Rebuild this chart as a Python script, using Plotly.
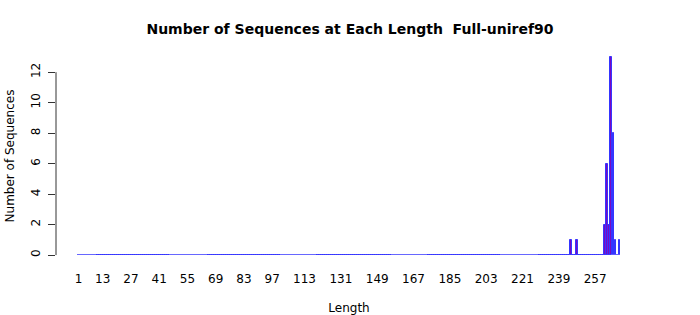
import plotly.graph_objects as go

# Sequence lengths observed (1..269) and counts at nonzero lengths
all_lengths = list(range(1, 270))
nonzero_lengths = [245, 248, 262, 263, 264, 265, 266, 267, 269]
nonzero_counts = [1, 1, 2, 6, 2, 13, 8, 1, 1]
tick_labels = [1, 13, 27, 41, 55, 69, 83, 97, 113, 131, 149, 167, 185, 203, 221, 239, 257]
y_ticks = [0, 2, 4, 6, 8, 10, 12]

count_map = dict(zip(nonzero_lengths, nonzero_counts))
counts = [count_map.get(L, 0) for L in all_lengths]

FONT = "DejaVu Sans"

fig = go.Figure()
fig.add_trace(go.Bar(
    x=all_lengths,
    y=counts,
    width=1 / 1.2,
    marker=dict(color="#7a08c0", line=dict(color="#3535ff", width=1)),
    hoverinfo="x+y",
))

fig.update_layout(
    width=700,
    height=315,
    margin=dict(l=56, r=58, t=49, b=52, autoexpand=False),
    paper_bgcolor="white",
    plot_bgcolor="white",
    showlegend=False,
    bargap=0,
    font=dict(family=FONT, size=12, color="black"),
    title=dict(
        text="<b>Number of Sequences at Each Length  Full-uniref90</b>",
        x=0.5, xanchor="center", y=1 - 29 / 315, yanchor="middle",
        font=dict(family=FONT, size=14, color="black"),
    ),
    xaxis=dict(
        range=[-10.15, 280.2],
        automargin=False,
        tickmode="array",
        tickvals=tick_labels,
        ticktext=[str(t) for t in tick_labels],
        ticks="",
        showline=False,
        showgrid=False,
        zeroline=False,
        ticklabelstandoff=7,
        tickfont=dict(family=FONT, size=12, color="black"),
        title=dict(text="Length", font=dict(family=FONT, size=12, color="black"), standoff=18),
    ),
    yaxis=dict(
        range=[-0.52, 13.52],
        automargin=False,
        tickmode="array",
        tickvals=y_ticks,
        ticks="outside",
        ticklen=7,
        tickcolor="#333333",
        tickangle=-90,
        showline=False,
        showgrid=False,
        zeroline=False,
        ticklabelstandoff=3,
        tickfont=dict(family=FONT, size=12, color="black"),
        title=dict(text="Number of Sequences", font=dict(family=FONT, size=12, color="black"), standoff=12),
    ),
)

# y axis line spanning only the tick range (as in base R axis)
fig.add_shape(type="line", xref="paper", yref="y", x0=0, x1=0, y0=y_ticks[0], y1=y_ticks[-1],
              line=dict(color="#333333", width=1))

fig.write_html("out.html")
